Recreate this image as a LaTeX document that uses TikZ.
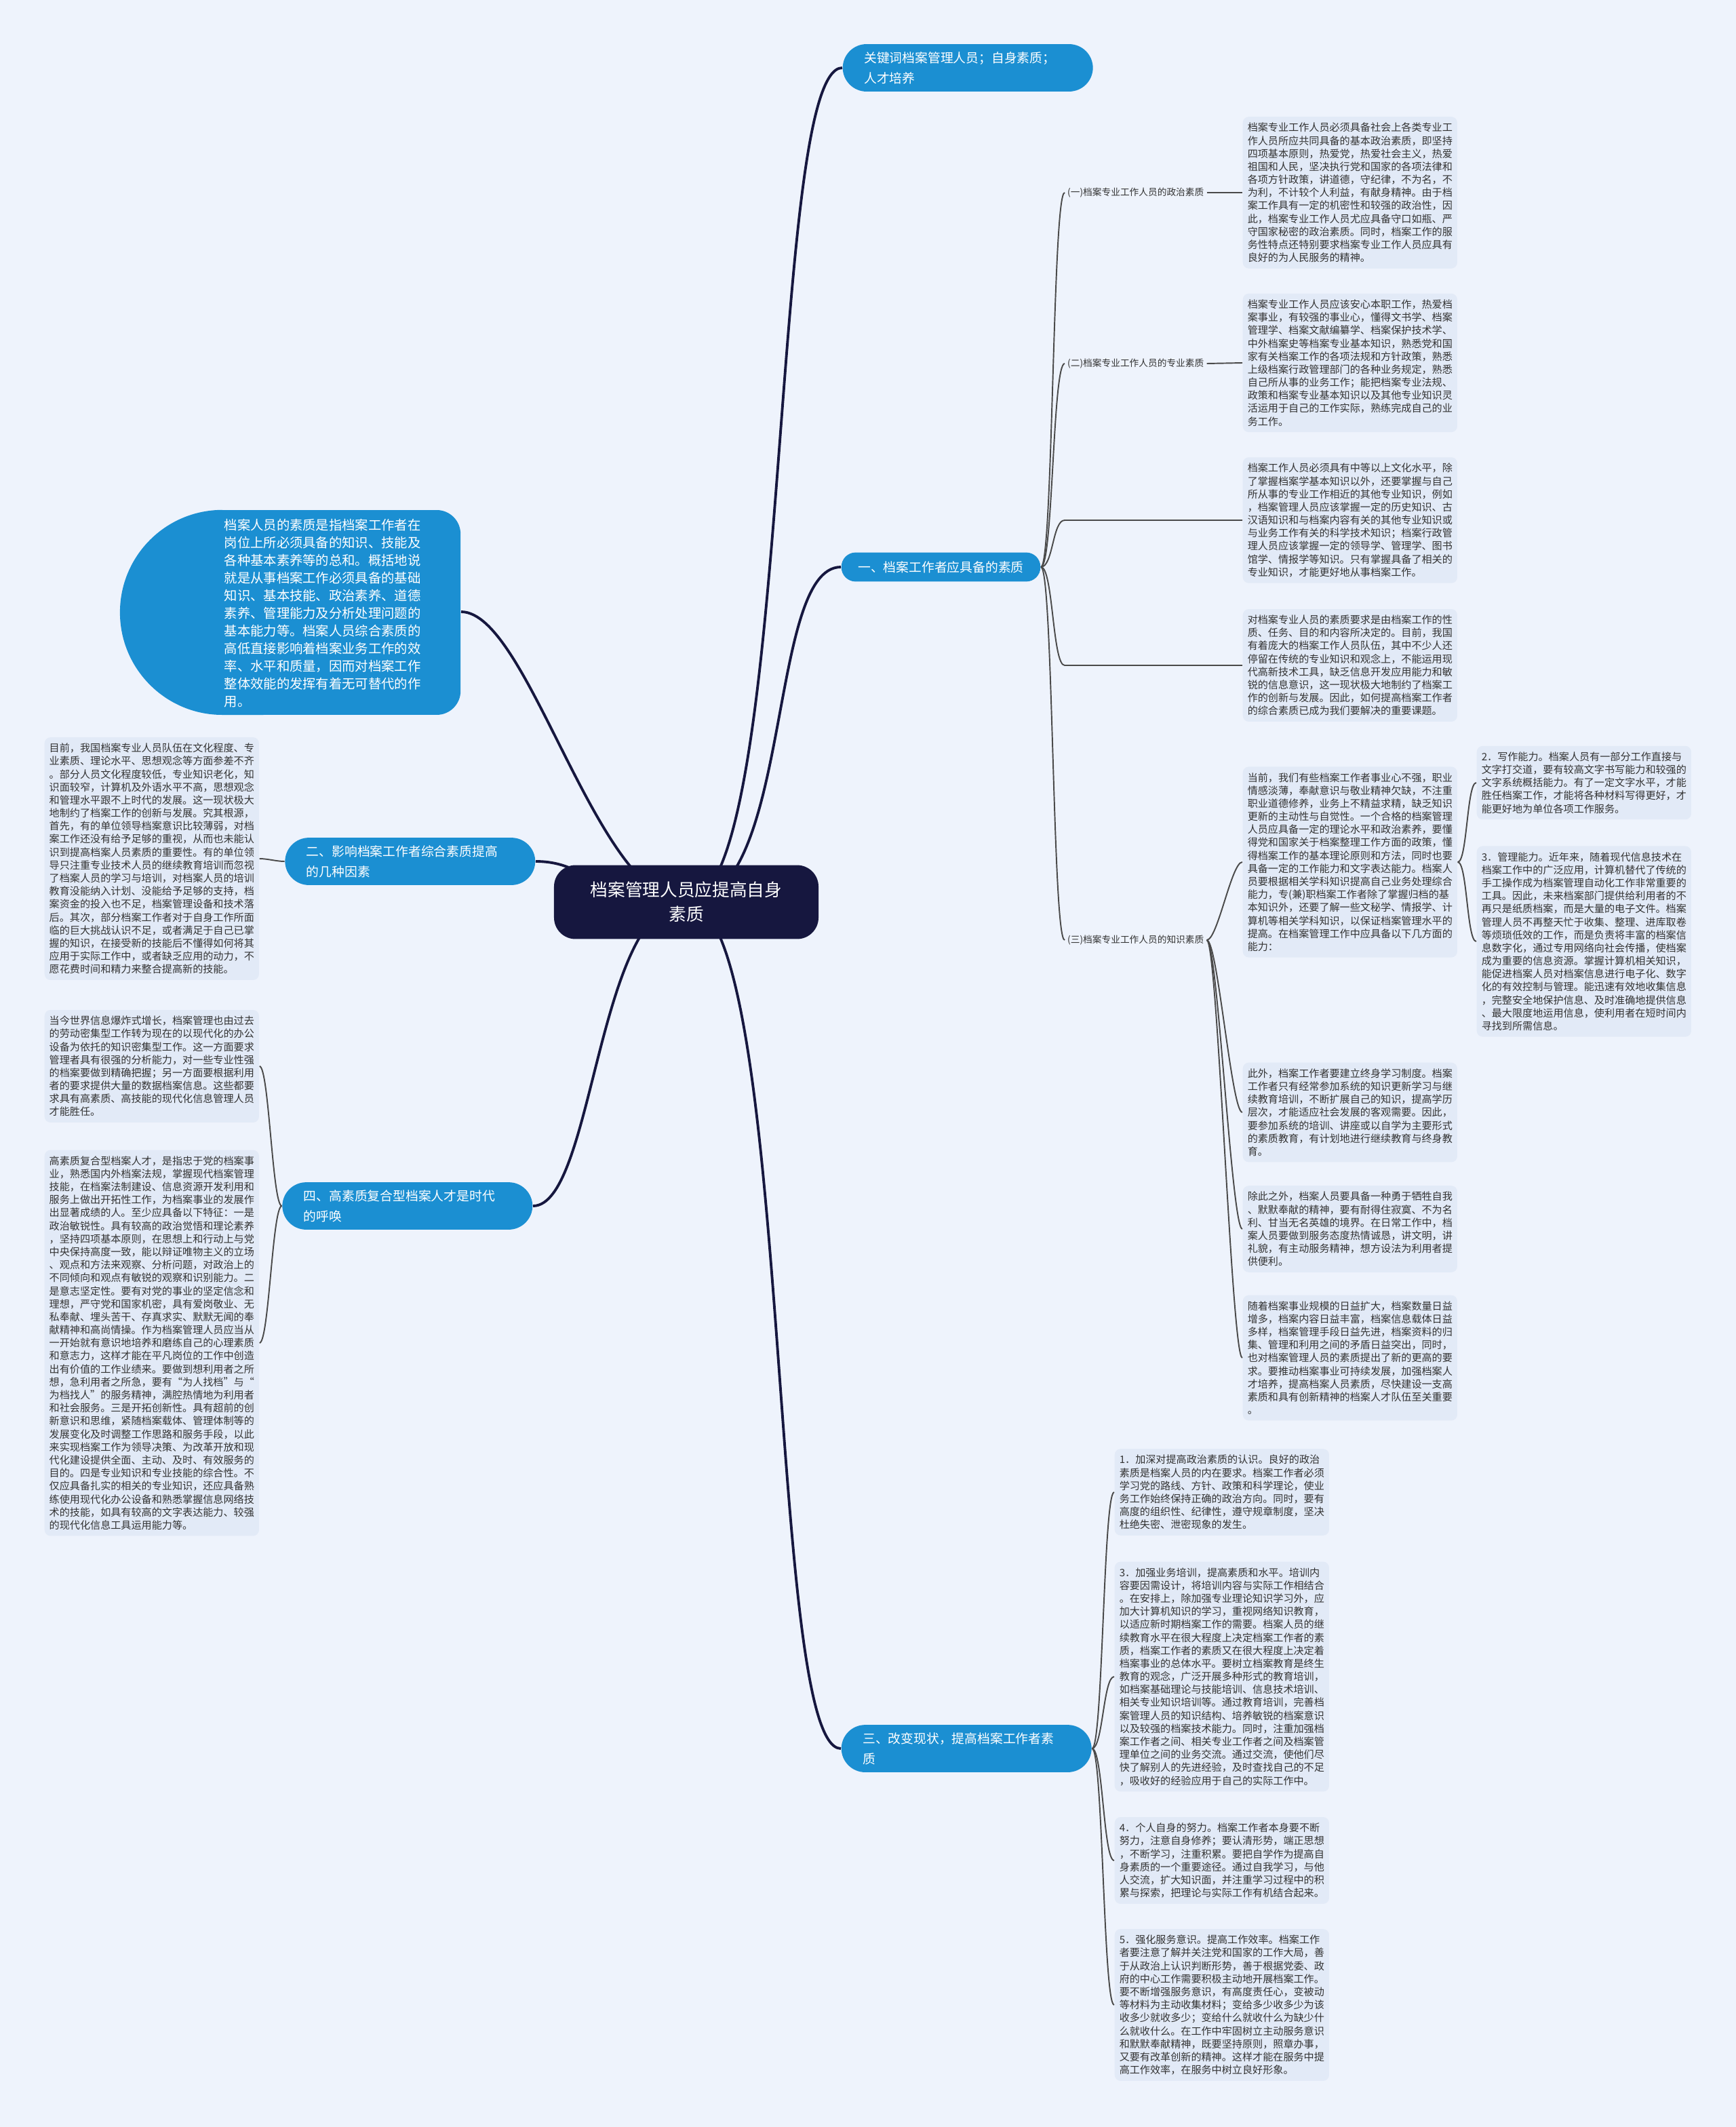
\documentclass[tikz,border=0pt]{standalone}
\usepackage{fontspec}
\newfontfamily\cjk{Noto Sans CJK SC}
\usepackage{tikz}
\usetikzlibrary{calc,backgrounds}
\definecolor{bgblue}{HTML}{EEF3FC}
\definecolor{notebg}{HTML}{E2EAF7}
\definecolor{topicblue}{HTML}{1B8FD2}
\definecolor{rootnavy}{HTML}{16173F}
\definecolor{linegray}{HTML}{4A4A4A}
\definecolor{notetext}{HTML}{333333}

\begin{document}
\begin{tikzpicture}[x=0.02cm, y=-0.02cm,
  root/.style={rectangle, rounded corners=9pt, fill=rootnavy, text=white,
               minimum width=111pt, minimum height=31pt, text width=84pt, align=center,
               font=\cjk\fontsize{7.3}{10.2}\selectfont},
  topic/.style={rectangle, rounded corners=10pt, fill=topicblue, text=white, align=left,
               text width=87pt, inner xsep=9pt, inner ysep=3.2pt,
               font=\cjk\fontsize{5.35}{8.5}\selectfont},
  note/.style={rectangle, rounded corners=2.5pt, fill=notebg, text=notetext, align=left,
               text width=86pt, inner xsep=2pt, inner ysep=2.5pt, anchor=west,
               font=\cjk\fontsize{4.3}{5.46}\selectfont},
  sublbl/.style={anchor=west, inner sep=1pt, text=notetext,
               font=\cjk\fontsize{3.9}{5}\selectfont},
  link/.style={line width=1.1pt, rootnavy},
  sublink/.style={line width=0.55pt, linegray}
]
% centre and first level
\node[root] (root) at (506,665) {档案管理人员应提高自身\\素质};
\node[topic, anchor=west] (kw) at (621,50) {关键词档案管理人员；自身素质；\\人才培养};
\node[topic, anchor=west, text width=, inner xsep=7pt, inner ysep=3.6pt, rounded corners=6pt]
  (one) at (620,418) {一、档案工作者应具备的素质};
\node[topic, anchor=west] (three) at (620,1289) {三、改变现状，提高档案工作者素\\质};
\node[topic, anchor=east] (two) at (395,635) {二、影响档案工作者综合素质提高\\的几种因素};
\node[topic, anchor=east] (four) at (393,889) {四、高素质复合型档案人才是时代\\的呼唤};

\fill[topicblue] (164,376) -- (322,376) arc[start angle=90, end angle=0, radius=10pt]
  -- (339.6,509.4) arc[start angle=0, end angle=-90, radius=10pt]
  -- (164,527) arc[start angle=270, end angle=90, radius=43pt] -- cycle;
\coordinate (introR) at (340,451);
\node[anchor=west, inner sep=0pt, text=white, text width=84pt, align=left,
      font=\cjk\fontsize{5.5}{7.4}\selectfont] (intro) at (165,452)
  {档案人员的素质是指档案工作者在\\
   岗位上所必须具备的知识、技能及\\
   各种基本素养等的总和。概括地说\\
   就是从事档案工作必须具备的基础\\
   知识、基本技能、政治素养、道德\\
   素养、管理能力及分析处理问题的\\
   基本能力等。档案人员综合素质的\\
   高低直接影响着档案业务工作的效\\
   率、水平和质量，因而对档案工作\\
   整体效能的发挥有着无可替代的作\\
   用。};

% branch one
\node[sublbl] (lab1) at (785,142) {(一)档案专业工作人员的政治素质};
\node[sublbl] (lab2) at (785,268) {(二)档案专业工作人员的专业素质};
\node[sublbl] (lab3) at (785,693) {(三)档案专业工作人员的知识素质};

\node[note] (p1) at (916,142) {档案专业工作人员必须具备社会上各类专业工\\
作人员所应共同具备的基本政治素质，即坚持\\
四项基本原则，热爱党，热爱社会主义，热爱\\
祖国和人民，坚决执行党和国家的各项法律和\\
各项方针政策，讲道德，守纪律，不为名，不\\
为利，不计较个人利益，有献身精神。由于档\\
案工作具有一定的机密性和较强的政治性，因\\
此，档案专业工作人员尤应具备守口如瓶、严\\
守国家秘密的政治素质。同时，档案工作的服\\
务性特点还特别要求档案专业工作人员应具有\\
良好的为人民服务的精神。};
\node[note] (p2) at (916,267.5) {档案专业工作人员应该安心本职工作，热爱档\\
案事业，有较强的事业心，懂得文书学、档案\\
管理学、档案文献编纂学、档案保护技术学、\\
中外档案史等档案专业基本知识，熟悉党和国\\
家有关档案工作的各项法规和方针政策，熟悉\\
上级档案行政管理部门的各种业务规定，熟悉\\
自己所从事的业务工作；能把档案专业法规、\\
政策和档案专业基本知识以及其他专业知识灵\\
活运用于自己的工作实际，熟练完成自己的业\\
务工作。};
\node[note] (p3) at (916,383.5) {档案工作人员必须具有中等以上文化水平，除\\
了掌握档案学基本知识以外，还要掌握与自己\\
所从事的专业工作相近的其他专业知识，例如\\
，档案管理人员应该掌握一定的历史知识、古\\
汉语知识和与档案内容有关的其他专业知识或\\
与业务工作有关的科学技术知识；档案行政管\\
理人员应该掌握一定的领导学、管理学、图书\\
馆学、情报学等知识。只有掌握具备了相关的\\
专业知识，才能更好地从事档案工作。};
\node[note] (p4) at (916,490.5) {对档案专业人员的素质要求是由档案工作的性\\
质、任务、目的和内容所决定的。目前，我国\\
有着庞大的档案工作人员队伍，其中不少人还\\
停留在传统的专业知识和观念上，不能运用现\\
代高新技术工具，缺乏信息开发应用能力和敏\\
锐的信息意识，这一现状极大地制约了档案工\\
作的创新与发展。因此，如何提高档案工作者\\
的综合素质已成为我们要解决的重要课题。};
\node[note] (p5) at (916,635.5) {当前，我们有些档案工作者事业心不强，职业\\
情感淡薄，奉献意识与敬业精神欠缺，不注重\\
职业道德修养，业务上不精益求精，缺乏知识\\
更新的主动性与自觉性。一个合格的档案管理\\
人员应具备一定的理论水平和政治素养，要懂\\
得党和国家关于档案整理工作方面的政策，懂\\
得档案工作的基本理论原则和方法，同时也要\\
具备一定的工作能力和文字表达能力。档案人\\
员要根据相关学科知识提高自己业务处理综合\\
能力，专(兼)职档案工作者除了掌握归档的基\\
本知识外，还要了解一些文秘学、情报学、计\\
算机等相关学科知识，以保证档案管理水平的\\
提高。在档案管理工作中应具备以下几方面的\\
能力：};
\node[note] (p6) at (916,820) {此外，档案工作者要建立终身学习制度。档案\\
工作者只有经常参加系统的知识更新学习与继\\
续教育培训，不断扩展自己的知识，提高学历\\
层次，才能适应社会发展的客观需要。因此，\\
要参加系统的培训、讲座或以自学为主要形式\\
的素质教育，有计划地进行继续教育与终身教\\
育。};
\node[note] (p7) at (916,906) {除此之外，档案人员要具备一种勇于牺牲自我\\
、默默奉献的精神，要有耐得住寂寞、不为名\\
利、甘当无名英雄的境界。在日常工作中，档\\
案人员要做到服务态度热情诚恳，讲文明，讲\\
礼貌，有主动服务精神，想方设法为利用者提\\
供便利。};
\node[note] (p8) at (916,1001) {随着档案事业规模的日益扩大，档案数量日益\\
增多，档案内容日益丰富，档案信息载体日益\\
多样，档案管理手段日益先进，档案资料的归\\
集、管理和利用之间的矛盾日益突出，同时，\\
也对档案管理人员的素质提出了新的更高的要\\
求。要推动档案事业可持续发展，加强档案人\\
才培养，提高档案人员素质，尽快建设一支高\\
素质和具有创新精神的档案人才队伍至关重要\\
。};
\node[note] (a2) at (1088.5,577) {2．写作能力。档案人员有一部分工作直接与\\
文字打交道，要有较高文字书写能力和较强的\\
文字系统概括能力。有了一定文字水平，才能\\
胜任档案工作，才能将各种材料写得更好，才\\
能更好地为单位各项工作服务。};
\node[note] (a3) at (1088.5,694) {3．管理能力。近年来，随着现代信息技术在\\
档案工作中的广泛应用，计算机替代了传统的\\
手工操作成为档案管理自动化工作非常重要的\\
工具。因此，未来档案部门提供给利用者的不\\
再只是纸质档案，而是大量的电子文件。档案\\
管理人员不再整天忙于收集、整理、进库取卷\\
等烦琐低效的工作，而是负责将丰富的档案信\\
息数字化，通过专用网络向社会传播，使档案\\
成为重要的信息资源。掌握计算机相关知识，\\
能促进档案人员对档案信息进行电子化、数字\\
化的有效控制与管理。能迅速有效地收集信息\\
，完整安全地保护信息、及时准确地提供信息\\
、最大限度地运用信息，使利用者在短时间内\\
寻找到所需信息。};

% branch two and four
\node[note] (l1) at (32.5,633) {目前，我国档案专业人员队伍在文化程度、专\\
业素质、理论水平、思想观念等方面参差不齐\\
。部分人员文化程度较低，专业知识老化，知\\
识面较窄，计算机及外语水平不高，思想观念\\
和管理水平跟不上时代的发展。这一现状极大\\
地制约了档案工作的创新与发展。究其根源，\\
首先，有的单位领导档案意识比较薄弱，对档\\
案工作还没有给予足够的重视，从而也未能认\\
识到提高档案人员素质的重要性。有的单位领\\
导只注重专业技术人员的继续教育培训而忽视\\
了档案人员的学习与培训，对档案人员的培训\\
教育没能纳入计划、没能给予足够的支持，档\\
案资金的投入也不足，档案管理设备和技术落\\
后。其次，部分档案工作者对于自身工作所面\\
临的巨大挑战认识不足，或者满足于自己已掌\\
握的知识，在接受新的技能后不懂得如何将其\\
应用于实际工作中，或者缺乏应用的动力，不\\
愿花费时间和精力来整合提高新的技能。};
\node[note] (l2) at (32.5,786) {当今世界信息爆炸式增长，档案管理也由过去\\
的劳动密集型工作转为现在的以现代化的办公\\
设备为依托的知识密集型工作。这一方面要求\\
管理者具有很强的分析能力，对一些专业性强\\
的档案要做到精确把握；另一方面要根据利用\\
者的要求提供大量的数据档案信息。这些都要\\
求具有高素质、高技能的现代化信息管理人员\\
才能胜任。};
\node[note] (l3) at (32.5,990) {高素质复合型档案人才，是指忠于党的档案事\\
业，熟悉国内外档案法规，掌握现代档案管理\\
技能，在档案法制建设、信息资源开发利用和\\
服务上做出开拓性工作，为档案事业的发展作\\
出显著成绩的人。至少应具备以下特征：一是\\
政治敏锐性。具有较高的政治觉悟和理论素养\\
，坚持四项基本原则，在思想上和行动上与党\\
中央保持高度一致，能以辩证唯物主义的立场\\
、观点和方法来观察、分析问题，对政治上的\\
不同倾向和观点有敏锐的观察和识别能力。二\\
是意志坚定性。要有对党的事业的坚定信念和\\
理想，严守党和国家机密，具有爱岗敬业、无\\
私奉献、埋头苦干、存真求实、默默无闻的奉\\
献精神和高尚情操。作为档案管理人员应当从\\
一开始就有意识地培养和磨练自己的心理素质\\
和意志力，这样才能在平凡岗位的工作中创造\\
出有价值的工作业绩来。要做到想利用者之所\\
想，急利用者之所急，要有“为人找档”与“\\
为档找人”的服务精神，满腔热情地为利用者\\
和社会服务。三是开拓创新性。具有超前的创\\
新意识和思维，紧随档案载体、管理体制等的\\
发展变化及时调整工作思路和服务手段，以此\\
来实现档案工作为领导决策、为改革开放和现\\
代化建设提供全面、主动、及时、有效服务的\\
目的。四是专业知识和专业技能的综合性。不\\
仅应具备扎实的相关的专业知识，还应具备熟\\
练使用现代化办公设备和熟悉掌握信息网络技\\
术的技能，如具有较高的文字表达能力、较强\\
的现代化信息工具运用能力等。};

% branch three
\node[note] (b1) at (821.5,1100) {1．加深对提高政治素质的认识。良好的政治\\
素质是档案人员的内在要求。档案工作者必须\\
学习党的路线、方针、政策和科学理论，使业\\
务工作始终保持正确的政治方向。同时，要有\\
高度的组织性、纪律性，遵守规章制度，坚决\\
杜绝失密、泄密现象的发生。};
\node[note] (b3) at (821.5,1236) {3．加强业务培训，提高素质和水平。培训内\\
容要因需设计，将培训内容与实际工作相结合\\
。在安排上，除加强专业理论知识学习外，应\\
加大计算机知识的学习，重视网络知识教育，\\
以适应新时期档案工作的需要。档案人员的继\\
续教育水平在很大程度上决定档案工作者的素\\
质，档案工作者的素质又在很大程度上决定着\\
档案事业的总体水平。要树立档案教育是终生\\
教育的观念，广泛开展多种形式的教育培训，\\
如档案基础理论与技能培训、信息技术培训、\\
相关专业知识培训等。通过教育培训，完善档\\
案管理人员的知识结构、培养敏锐的档案意识\\
以及较强的档案技术能力。同时，注重加强档\\
案工作者之间、相关专业工作者之间及档案管\\
理单位之间的业务交流。通过交流，使他们尽\\
快了解别人的先进经验，及时查找自己的不足\\
，吸收好的经验应用于自己的实际工作中。};
\node[note] (b4) at (821.5,1371.5) {4．个人自身的努力。档案工作者本身要不断\\
努力，注意自身修养；要认清形势，端正思想\\
，不断学习，注重积累。要把自学作为提高自\\
身素质的一个重要途径。通过自我学习，与他\\
人交流，扩大知识面，并注重学习过程中的积\\
累与探索，把理论与实际工作有机结合起来。};
\node[note] (b5) at (821.5,1478) {5．强化服务意识。提高工作效率。档案工作\\
者要注意了解并关注党和国家的工作大局，善\\
于从政治上认识判断形势，善于根据党委、政\\
府的中心工作需要积极主动地开展档案工作。\\
要不断增强服务意识，有高度责任心，变被动\\
等材料为主动收集材料；变给多少收多少为该\\
收多少就收多少；变给什么就收什么为缺少什\\
么就收什么。在工作中牢固树立主动服务意识\\
和默默奉献精神，既要坚持原则，照章办事，\\
又要有改革创新的精神。这样才能在服务中提\\
高工作效率，在服务中树立良好形象。};

\begin{scope}[on background layer]
\fill[bgblue] (0,0) rectangle (1280,1568);
\draw[link] (root.center) .. controls +(79,0) and +(-55,0) .. (kw.west);
\draw[link] (root.center) .. controls +(79,0) and +(-55,0) .. (one.west);
\draw[link] (root.center) .. controls +(79,0) and +(-55,0) .. (three.west);
\draw[link] (root.center) .. controls +(-66,0) and +(40,0) .. (two.east);
\draw[link] (root.center) .. controls +(-66,0) and +(50,0) .. (introR);
\draw[link] (root.center) .. controls +(-66,0) and +(45,0) .. (four.east);

\draw[sublink] (one.east) .. controls +(9,0) and +(-9,0) .. (lab1.west);
\draw[sublink] (one.east) .. controls +(9,0) and +(-9,0) .. (lab2.west);
\draw[sublink] (one.east) .. controls +(9,0) and +(-9,0) .. ($(p3.west)+(-131,0)$) -- (p3.west);
\draw[sublink] (one.east) .. controls +(9,0) and +(-9,0) .. ($(p4.west)+(-131,0)$) -- (p4.west);
\draw[sublink] (one.east) .. controls +(9,0) and +(-9,0) .. (lab3.west);
\draw[sublink] (lab1.east) -- (p1.west);
\draw[sublink] (lab2.east) -- (p2.west);
\foreach \n in {p5,p6,p7,p8}
  \draw[sublink] (lab3.east) .. controls +(8,0) and +(-8,0) .. (\n.west);
\foreach \n in {a2,a3}
  \draw[sublink] (p5.east) .. controls +(7,0) and +(-7,0) .. (\n.west);
\foreach \n in {b1,b3,b4,b5}
  \draw[sublink] (three.east) .. controls +(8,0) and +(-8,0) .. (\n.west);
\draw[sublink] (two.west) .. controls +(-6,0) and +(6,0) .. (l1.east);
\foreach \n in {l2,l3}
  \draw[sublink] (four.west) .. controls +(-7,0) and +(7,0) .. (\n.east);
\end{scope}
\end{tikzpicture}
\end{document}
